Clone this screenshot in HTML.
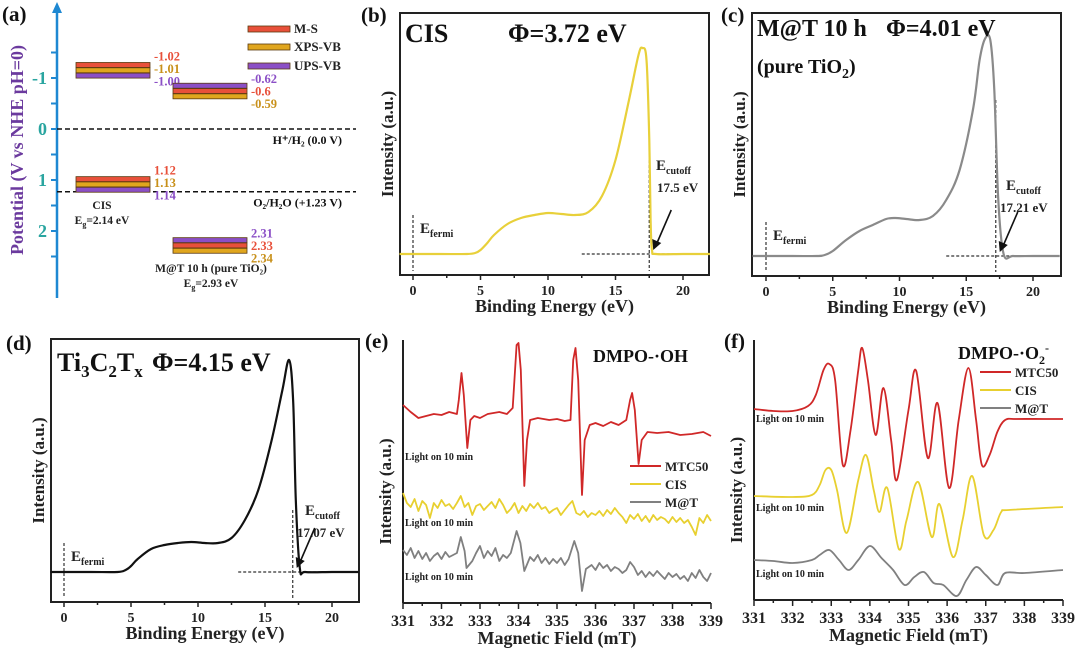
<!DOCTYPE html>
<html><head><meta charset="utf-8">
<style>
html,body{margin:0;padding:0;background:#fff;}
svg{display:block;font-family:"Liberation Serif",serif;font-weight:bold;}
</style></head>
<body>
<svg id="fig" width="1080" height="648" viewBox="0 0 1080 648" xmlns="http://www.w3.org/2000/svg">
<g id="pa"></g>
<g id="pb"></g>
<g id="pc"></g>
<g id="pd"></g>
<g id="pe"></g>
<g id="pf"></g>
</svg>
<script>
// ---------- Panel (a) data ----------
const aBandNames = ["CIS CB","M@T CB","CIS VB","M@T VB"];
const aMS = [-1.02, -0.6, 1.12, 2.33];
const aXPS = [-1.01, -0.59, 1.13, 2.34];
const aUPS = [-1.00, -0.62, 1.14, 2.31];
const aMSLabels = ["-1.02","-0.6","1.12","2.33"];
const aXPSLabels = ["-1.01","-0.59","1.13","2.34"];
const aUPSLabels = ["-1.00","-0.62","1.14","2.31"];
const aTicks = [-1, 0, 1, 2];
// ---------- UPS data (binding energy eV, intensity a.u.) ----------
const bE = [-1,2,4,4.6,5,5.5,6,7,8,9,10,11,12,13,14,15,16,16.7,17,17.3,17.5,17.6,17.7,18,20,22];
const bI = [0,0,0,1,4,11,19,30,36,39,41,40,39,42,58,94,154,199,206,194,114,34,4,0,0,0];
const cE = [-1,2,3.8,4.4,5,6,7,8,9,9.7,10.5,11.5,12.5,13.5,14.5,15.5,16,16.4,16.8,17.1,17.4,17.8,18.5,20,22];
const cI = [0,0,0,1,5,16,25,31,37,38,37,36,40,56,86,146,196,217,216,166,56,2,0,0,0];
const dE = [-1,2,4,4.6,5,5.5,6.5,7.5,8.5,9.5,10.5,11.5,12.5,13.5,14.5,15.5,16.3,16.8,17.1,17.3,17.6,18,20,22];
const dI = [0,0,0,2,6,13,23,27,29,30,29,29,34,52,82,132,182,212,172,72,4,0,0,0];
const upsTicks = [0,5,10,15,20];
// ---------- EPR (e) DMPO-OH ----------
const eRedB = [331,331.2,331.4,331.6,331.8,332,332.2,332.4,332.45,332.52,332.58,332.67,332.75,332.85,333,333.2,333.5,333.7,333.85,333.95,334,334.06,334.15,334.22,334.3,334.5,334.8,335,335.2,335.35,335.42,335.48,335.55,335.65,335.72,335.85,336,336.2,336.4,336.6,336.8,336.9,336.95,337.02,337.12,337.2,337.35,337.6,337.9,338.2,338.5,338.8,339];
const eRedI = [198,191,185,187,189,188,191,189,203,230,208,155,183,187,185,189,191,189,195,258,260,233,117,163,183,185,183,184,182,183,243,255,223,108,163,178,180,177,181,178,183,203,210,193,139,163,171,170,171,168,169,171,167];
const eCisB = [331,331.1,331.2,331.3,331.4,331.5,331.6,331.7,331.8,331.9,332,332.1,332.2,332.3,332.4,332.5,332.6,332.7,332.8,332.9,333,333.1,333.2,333.3,333.4,333.5,333.6,333.7,333.8,333.9,334,334.1,334.2,334.3,334.4,334.5,334.6,334.7,334.8,334.9,335,335.1,335.2,335.3,335.4,335.5,335.6,335.7,335.8,335.9,336,336.1,336.2,336.3,336.4,336.5,336.6,336.7,336.8,336.9,337,337.1,337.2,337.3,337.4,337.5,337.6,337.7,337.8,337.9,338,338.1,338.2,338.3,338.4,338.5,338.6,338.7,338.8,338.9,339];
const eCisI = [110,100,96,104,92,102,98,85,100,95,103,97,99,94,100,107,96,100,88,97,99,93,97,101,95,104,98,90,94,100,90,97,92,99,95,100,94,96,90,93,95,88,93,98,102,90,88,92,86,90,88,92,87,93,89,95,90,86,80,88,84,89,82,87,81,88,83,86,84,80,86,81,85,80,83,76,68,85,80,88,82];
const eMatB = [331,331.1,331.2,331.3,331.4,331.5,331.6,331.7,331.8,331.9,332,332.1,332.2,332.3,332.4,332.5,332.6,332.65,332.8,332.9,333,333.1,333.2,333.3,333.4,333.5,333.6,333.7,333.8,333.95,334.05,334.15,334.3,334.4,334.5,334.6,334.7,334.8,334.9,335,335.1,335.2,335.3,335.45,335.55,335.65,335.75,335.9,336,336.1,336.2,336.3,336.4,336.5,336.6,336.7,336.8,336.9,337,337.1,337.2,337.3,337.4,337.5,337.6,337.7,337.8,337.9,338,338.1,338.2,338.3,338.4,338.5,338.6,338.7,338.8,338.9,339];
const eMatI = [53,48,55,45,52,44,50,42,47,50,44,51,46,48,50,66,52,35,42,50,57,45,52,47,55,42,48,45,50,72,60,32,46,42,48,40,45,39,44,40,45,38,44,62,50,12,34,38,33,40,35,38,32,36,34,30,33,41,36,28,32,26,31,27,32,28,24,30,26,29,24,27,22,30,25,33,26,22,30];
// ---------- EPR (f) DMPO-O2- ----------
const fRedB = [331,331.5,332,332.4,332.6,332.8,332.95,333.1,333.3,333.5,333.7,333.8,333.95,334.15,334.35,334.55,334.7,335,335.2,335.5,335.75,336.05,336.3,336.55,336.75,336.9,337.1,337.3,337.5,337.8,338.5,339];
const fRedI = [191,189,189,194,205,230,236,220,135,170,230,252,220,165,212,160,120,190,229,142,197,112,180,232,180,135,145,168,180,181,181,181];
const fCisB = [331,332,332.5,332.7,332.85,333,333.15,333.4,333.7,333.9,334.1,334.25,334.45,334.75,334.95,335.25,335.6,335.8,336.15,336.4,336.65,336.95,337.2,337.4,337.6,339];
const fCisI = [104,103,105,115,130,130,110,67,120,145,110,88,112,51,80,118,63,96,43,80,124,65,70,88,90,93];
const fMatB = [331,331.5,332,332.5,332.7,332.95,333.2,333.45,333.7,334,334.3,334.6,334.9,335.15,335.4,335.65,335.9,336.25,336.5,336.75,337,337.3,337.5,338,339];
const fMatI = [40,39,37,40,45,50,40,30,40,54,42,30,15,23,28,17,15,4,20,33,25,15,27,27,30];
const eprTicks = [331,332,333,334,335,336,337,338,339];

const NS = "http://www.w3.org/2000/svg";
function mk(parent, tag, attrs, text){
  const el = document.createElementNS(NS, tag);
  for (const k in attrs) el.setAttribute(k, attrs[k]);
  if (text !== undefined) el.textContent = text;
  parent.appendChild(el);
  return el;
}
function polyD(xs, ys, sx, sy){
  let d = "";
  for (let i=0;i<xs.length;i++) d += (i?"L":"M") + sx(xs[i]).toFixed(1) + "," + sy(ys[i]).toFixed(1);
  return d;
}
function smoothD(xs, ys, sx, sy){
  const P = xs.map((x,i)=>[sx(x), sy(ys[i])]);
  let d = "M"+P[0][0].toFixed(1)+","+P[0][1].toFixed(1);
  for (let i=0;i<P.length-1;i++){
    const p0=P[i-1]||P[i], p1=P[i], p2=P[i+1], p3=P[i+2]||P[i+1];
    const c1=[p1[0]+(p2[0]-p0[0])/6, p1[1]+(p2[1]-p0[1])/6];
    const c2=[p2[0]-(p3[0]-p1[0])/6, p2[1]-(p3[1]-p1[1])/6];
    d += "C"+c1[0].toFixed(1)+","+c1[1].toFixed(1)+" "+c2[0].toFixed(1)+","+c2[1].toFixed(1)+" "+p2[0].toFixed(1)+","+p2[1].toFixed(1);
  }
  return d;
}

// ================= Panel (a) =================
(function(){
  const g = document.getElementById("pa");
  const ay = v => 129 + v*51;
  const ax = 57;
  let t;
  t = mk(g,"text",{x:2,y:21,"font-size":21,fill:"#111"},"(a)");
  
  
  let l = mk(g,"line",{x1:ax,y1:298,x2:ax,y2:10,stroke:"#1e88d2","stroke-width":2.5});
  
  
  let arr = mk(g,"polygon",{points:`${ax-5},13 ${ax},2 ${ax+5},13`,fill:"#1e88d2"});
  
  
  for (let v=-1.5; v<=2.5; v+=0.5){
    let tk = mk(g,"line",{x1:ax-6,y1:ay(v),x2:ax,y2:ay(v),stroke:"#1e88d2","stroke-width":2});
    
    
  }
  aTicks.forEach(v=>{
    let tl = mk(g,"text",{x:ax-10,y:ay(v)+6,"font-size":18,fill:"#2aa5a0","text-anchor":"end"}, String(v));
    
    
  });
  let yt = mk(g,"text",{x:0,y:0,"font-size":18,fill:"#6b3a9e","text-anchor":"middle",transform:"translate(23,150) rotate(-90)"},"Potential (V vs NHE pH=0)");
  
  
  [[0,"H⁺/H₂ (0.0 V)","h2-line"],[1.23,"O₂/H₂O (+1.23 V)","o2-line"]].forEach(r=>{
    let dl = mk(g,"line",{x1:ax,y1:ay(r[0]),x2:356,y2:ay(r[0]),stroke:"#111","stroke-width":1.5,"stroke-dasharray":"5,3"});
    
    
    let lt = mk(g,"text",{x:342,y:ay(r[0])+15,"font-size":12,fill:"#111","text-anchor":"end"},r[1]);
    
    
  });
  const cols = {ms:"#e8503a", xps:"#e0a61e", ups:"#8b4fc6"};
  const xs = [[76,150],[173,247],[76,150],[173,247]];
  for (let i=0;i<4;i++){
    const items = [{v:aMS[i],s:aMSLabels[i],c:cols.ms},{v:aXPS[i],s:aXPSLabels[i],c:cols.xps},{v:aUPS[i],s:aUPSLabels[i],c:cols.ups}].sort((a,b)=>a.v-b.v);
    const mean = (aMS[i]+aXPS[i]+aUPS[i])/3;
    const cy = ay(mean) - (i<2?7:2);
    items.forEach((it,k)=>{
      let r = mk(g,"rect",{x:xs[i][0],y:cy-8+k*5.3,width:xs[i][1]-xs[i][0],height:5,fill:it.c,stroke:"#5a3a10","stroke-width":0.8});
      
      
      let vl = mk(g,"text",{x:xs[i][1]+4,y:cy-10+k*12.5+(i%2?2:0),"font-size":12.5,fill:it.c==cols.xps?"#c8901a":it.c},it.s);
      
      
    });
  }
  const labs = [[102,209,"CIS"],[211,272,"M@T 10 h (pure TiO₂)"]];
  labs.forEach(s=>{
    let tx = mk(g,"text",{x:s[0],y:s[1],"font-size":11.5,fill:"#222","text-anchor":"middle"},s[2]);
    
    
  });
  let eg1 = mk(g,"text",{x:102,y:224,"font-size":11.5,fill:"#222","text-anchor":"middle"});
  eg1.innerHTML = 'E<tspan font-size="8" dy="3">g</tspan><tspan dy="-3">=2.14 eV</tspan>';
  
  
  let eg2 = mk(g,"text",{x:211,y:287,"font-size":11.5,fill:"#222","text-anchor":"middle"});
  eg2.innerHTML = 'E<tspan font-size="8" dy="3">g</tspan><tspan dy="-3">=2.93 eV</tspan>';
  
  
  [["M-S",cols.ms,29],["XPS-VB",cols.xps,47],["UPS-VB",cols.ups,66]].forEach(e=>{
    let r = mk(g,"rect",{x:248,y:e[2]-3,width:42,height:6,fill:e[1],stroke:"#5a3a10","stroke-width":0.8});
    
    
    let tx = mk(g,"text",{x:294,y:e[2]+4,"font-size":13,fill:"#222"},e[0]);
    
    
  });
})();

// ================= UPS panels =================
function upsPanel(id, cfg){
  const g = document.getElementById(id);
  const sx = e => cfg.x0px + (e - 0) * (cfg.x20px - cfg.x0px) / 20;
  const sy = v => cfg.base - v;
  let fr = mk(g,"rect",{x:cfg.L,y:cfg.T,width:cfg.R-cfg.L,height:cfg.B-cfg.T,fill:"none",stroke:"#222","stroke-width":2});
  
  
  for (let e=0; e<=22; e+=2.5){
    const major = (e%5===0);
    let tk = mk(g,"line",{x1:sx(e),y1:cfg.B,x2:sx(e),y2:cfg.B+(major?5:3),stroke:"#222","stroke-width":1.5});
    
    
  }
  upsTicks.forEach(v=>{
    let tl = mk(g,"text",{x:sx(v),y:cfg.B+20,"font-size":14,fill:"#222","text-anchor":"middle"},String(v));
    
    
  });
  let xt = mk(g,"text",{x:(cfg.L+cfg.R)/2,y:cfg.B+37,"font-size":18,fill:"#222","text-anchor":"middle"},"Binding Energy (eV)");
  
  
  let yt = mk(g,"text",{x:0,y:0,"font-size":17,fill:"#222","text-anchor":"middle",transform:`translate(${cfg.L-7},${(cfg.T+cfg.B)/2}) rotate(-90)`},"Intensity (a.u.)");
  
  
  let fv = mk(g,"line",{x1:sx(0),y1:cfg.fTop,x2:sx(0),y2:cfg.B-4,stroke:"#333","stroke-width":1.2,"stroke-dasharray":"3,2"});
  
  
  let cv = mk(g,"line",{x1:sx(cfg.cut),y1:cfg.cTop,x2:sx(cfg.cut),y2:cfg.B-4,stroke:"#333","stroke-width":1.2,"stroke-dasharray":"3,2"});
  
  
  let ch = mk(g,"line",{x1:sx(cfg.hStart),y1:sy(0),x2:cfg.R,y2:sy(0),stroke:"#333","stroke-width":1.2,"stroke-dasharray":"3,2"});
  
  
  let p = mk(g,"path",{d:smoothD(cfg.E,cfg.I,sx,sy),fill:"none",stroke:cfg.color,"stroke-width":2.2});
  
  
  let ef = mk(g,"text",{x:sx(0)+7,y:cfg.fTop+18,"font-size":15,fill:"#222"});
  ef.innerHTML = 'E<tspan font-size="10" dy="4">fermi</tspan>';
  
  
  let ec = mk(g,"text",{x:cfg.ecX,y:cfg.ecY,"font-size":15,fill:"#222"});
  ec.innerHTML = 'E<tspan font-size="10" dy="4">cutoff</tspan>';
  
  
  let ev = mk(g,"text",{x:cfg.evX,y:cfg.ecY+22,"font-size":13,fill:"#222"},cfg.cutTxt);
  
  
  const ex = sx(cfg.cut)+4, eyv = sy(0)-4;
  let al = mk(g,"line",{x1:ex+18,y1:eyv-40,x2:ex+2,y2:eyv-3,stroke:"#111","stroke-width":1.6});
  
  
  let ah = mk(g,"polygon",{points:`${ex},${eyv} ${ex-1},${eyv-11} ${ex+8},${eyv-7}`,fill:"#111"});
  
  
  let pl = mk(g,"text",{x:cfg.lblX,y:cfg.lblY,"font-size":21,fill:"#111"},cfg.lbl);
  
  
  cfg.titles.forEach(tt=>{
    let te = mk(g,"text",{x:tt[0],y:tt[1],"font-size":tt[2],fill:"#111"});
    te.innerHTML = tt[3];
    
    
  });
}
upsPanel("pb",{L:400,R:709,T:13,B:275,x0px:413,x20px:683,base:254,E:bE,I:bI,color:"#e8d03a",cut:17.5,cutTxt:"17.5 eV",fTop:215,cTop:140,hStart:12.5,ecX:656,ecY:170,evX:657,lbl:"(b)",lblX:361,lblY:22,
  titles:[[405,42,26,"CIS"],[508,42,26,"Φ=3.72 eV"]]});
upsPanel("pc",{L:752,R:1061,T:13,B:276,x0px:766,x20px:1033,base:256,E:cE,I:cI,color:"#8a8a8a",cut:17.21,cutTxt:"17.21 eV",fTop:222,cTop:100,hStart:13.5,ecX:1006,ecY:190,evX:1000,lbl:"(c)",lblX:721,lblY:22,
  titles:[[757,36,24,"M@T 10 h"],[886,36,24,"Φ=4.01 eV"],[757,73,20,'(pure TiO<tspan font-size="14" dy="5">2</tspan><tspan dy="-5">)</tspan>']]});
upsPanel("pd",{L:51,R:359,T:339,B:602,x0px:64,x20px:332,base:572,E:dE,I:dI,color:"#111",cut:17.07,cutTxt:"17.07 eV",fTop:543,cTop:510,hStart:13,ecX:305,ecY:515,evX:297,lbl:"(d)",lblX:6,lblY:350,
  titles:[[57,371,26,'Ti<tspan font-size="17" dy="6">3</tspan><tspan dy="-6">C</tspan><tspan font-size="17" dy="6">2</tspan><tspan dy="-6">T</tspan><tspan font-size="17" dy="6">x</tspan>'],[152,371,26,"Φ=4.15 eV"]]});

// ================= EPR panels =================
function eprPanel(id, cfg){
  const g = document.getElementById(id);
  const sx = b => cfg.L + (b-331)*(cfg.R-cfg.L)/8;
  const sy = v => cfg.B - v;
  let ax1 = mk(g,"line",{x1:cfg.L,y1:cfg.T,x2:cfg.L,y2:cfg.B,stroke:"#222","stroke-width":2});
  
  
  let ax2 = mk(g,"line",{x1:cfg.L,y1:cfg.B,x2:cfg.R,y2:cfg.B,stroke:"#222","stroke-width":2});
  
  
  for (let b=331;b<=339;b+=0.5){
    const major = Number.isInteger(b);
    let tk = mk(g,"line",{x1:sx(b),y1:cfg.B,x2:sx(b),y2:cfg.B+(major?6:3),stroke:"#222","stroke-width":1.5});
    
    
  }
  eprTicks.forEach(v=>{
    let tl = mk(g,"text",{x:sx(v),y:cfg.B+23,"font-size":16,fill:"#222","text-anchor":"middle"},String(v));
    
    
  });
  let xt = mk(g,"text",{x:(cfg.L+cfg.R)/2,y:cfg.B+41,"font-size":18,fill:"#222","text-anchor":"middle"},"Magnetic Field (mT)");
  
  
  let yt = mk(g,"text",{x:0,y:0,"font-size":17,fill:"#222","text-anchor":"middle",transform:`translate(${cfg.L-12},${(cfg.T+cfg.B)/2+20}) rotate(-90)`},"Intensity (a.u.)");
  
  
  const draw = cfg.smooth ? smoothD : polyD;
  cfg.series.forEach(s=>{
    let p = mk(g,"path",{d:draw(s.B,s.I,sx,sy),fill:"none",stroke:s.color,"stroke-width":1.8,"stroke-linejoin":"round"});
    
    
  });
  cfg.series.forEach((s,i)=>{
    let ll = mk(g,"line",{x1:cfg.legX,y1:cfg.legY+i*18,x2:cfg.legX+31,y2:cfg.legY+i*18,stroke:s.color,"stroke-width":2});
    
    
    let lt = mk(g,"text",{x:cfg.legX+35,y:cfg.legY+i*18+5,"font-size":13,fill:"#222"},s.name);
    
    
  });
  cfg.lightY.forEach(y=>{
    let lt = mk(g,"text",{x:cfg.L+2,y:y,"font-size":10,fill:"#222"},"Light on 10 min");
    
    
  });
  let pl = mk(g,"text",{x:cfg.lblX,y:348,"font-size":21,fill:"#111"},cfg.lbl);
  
  
  let ti = mk(g,"text",{x:cfg.titleX,y:cfg.titleY,"font-size":18,fill:"#111"});
  ti.innerHTML = cfg.title;
  
  
}
eprPanel("pe",{L:403,R:711,T:340,B:603,smooth:false,legX:630,legY:466,lightY:[460,526,580],lbl:"(e)",lblX:365,titleX:593,titleY:362,title:"DMPO-·OH",
  series:[{name:"MTC50",B:eRedB,I:eRedI,color:"#d02828"},{name:"CIS",B:eCisB,I:eCisI,color:"#e8d030"},{name:"M@T",B:eMatB,I:eMatI,color:"#808080"}]});
eprPanel("pf",{L:754,R:1063,T:340,B:600,smooth:true,legX:980,legY:372,lightY:[422,511,577],lbl:"(f)",lblX:724,titleX:958,titleY:359,title:'DMPO-·O<tspan font-size="12" dy="5">2</tspan><tspan font-size="12" dy="-12">-</tspan>',
  series:[{name:"MTC50",B:fRedB,I:fRedI,color:"#d02828"},{name:"CIS",B:fCisB,I:fCisI,color:"#e8d030"},{name:"M@T",B:fMatB,I:fMatI,color:"#808080"}]});
</script>
</body></html>
